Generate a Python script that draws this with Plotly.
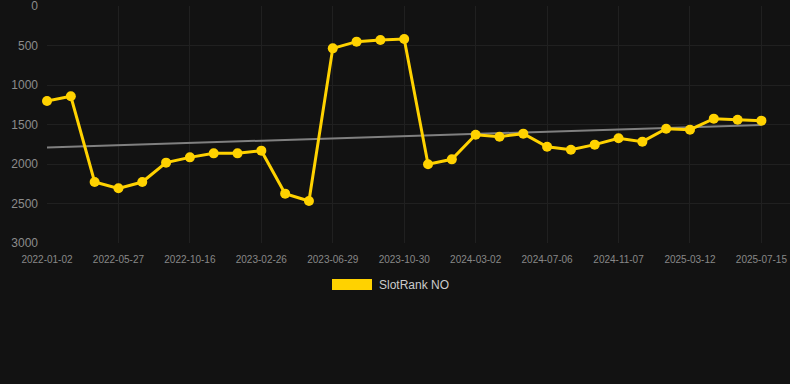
import plotly.graph_objects as go

dates = ["2022-01-02", "2022-02-19", "2022-04-08", "2022-05-27", "2022-07-13", "2022-08-29",
         "2022-10-16", "2022-11-29", "2023-01-12", "2023-02-26", "2023-04-08", "2023-05-19",
         "2023-06-29", "2023-08-09", "2023-09-19", "2023-10-30", "2023-12-10", "2024-01-20",
         "2024-03-02", "2024-04-13", "2024-05-25", "2024-07-06", "2024-08-16", "2024-09-27",
         "2024-11-07", "2024-12-18", "2025-01-29", "2025-03-12", "2025-04-22", "2025-06-03",
         "2025-07-15"]
ranks = [1203, 1143, 2228, 2308, 2228, 1983, 1916, 1865, 1865, 1831, 2375, 2468,
         536, 451, 430, 418, 2004, 1941, 1629, 1654, 1616, 1781, 1819, 1755,
         1675, 1717, 1553, 1565, 1426, 1439, 1451]
tick_labels = ["2022-01-02", "2022-05-27", "2022-10-16", "2023-02-26", "2023-06-29",
               "2023-10-30", "2024-03-02", "2024-07-06", "2024-11-07", "2025-03-12", "2025-07-15"]
trend_dates = ["2022-01-02", "2025-07-15"]
trend_values = [1790, 1505]
series_name = "SlotRank NO"

idx = list(range(len(dates)))
trend_idx = [dates.index(d) for d in trend_dates]

fig = go.Figure()
fig.add_trace(go.Scatter(x=trend_idx, y=trend_values, mode="lines",
                         line=dict(color="#808080", width=2), showlegend=False, hoverinfo="skip"))
fig.add_trace(go.Scatter(x=idx, y=ranks, mode="lines+markers", name=series_name,
                         line=dict(color="#FFD200", width=3),
                         marker=dict(color="#FFD200", size=10), showlegend=False,
                         text=dates, cliponaxis=False))

tickvals = [dates.index(d) for d in tick_labels]
fig.update_layout(
    width=790, height=384,
    margin=dict(l=47, r=0, t=6, b=141),
    paper_bgcolor="#121212", plot_bgcolor="#121212",
    font=dict(family="Liberation Sans, Arial, sans-serif", color="#888888"),
    xaxis=dict(range=[0, 31.2], tickvals=tickvals, ticktext=tick_labels,
               showgrid=True, gridcolor="#202020", zeroline=False,
               tickfont=dict(size=10, color="#888888"), ticks="", showline=False,
               ticklabelstandoff=9, automargin=False, ticklabeloverflow="allow"),
    yaxis=dict(range=[3000, 0], tickvals=[0, 500, 1000, 1500, 2000, 2500, 3000],
               showgrid=True, gridcolor="#202020", zeroline=False,
               tickfont=dict(size=12, color="#8c8c8c"), ticks="", ticklabelstandoff=8,
               automargin=False, ticklabeloverflow="allow"),
    showlegend=False,
)
# Legend drawn manually (rectangle swatch + label)
fig.add_shape(type="rect", xref="paper", yref="paper",
              x0=(332 - 47) / 743, x1=(372 - 47) / 743,
              y0=(243 - 290) / 237, y1=(243 - 279) / 237,
              fillcolor="#FFD200", line=dict(width=0))
fig.add_annotation(xref="paper", yref="paper", x=(377 - 47) / 743, y=(243 - 284.5) / 237,
                   text=series_name, showarrow=False, xanchor="left", yanchor="middle",
                   font=dict(size=12, color="#CCCCCC"))
fig.write_html("out.html", config={"displayModeBar": False},
               post_script="document.body.style.margin='0';")
